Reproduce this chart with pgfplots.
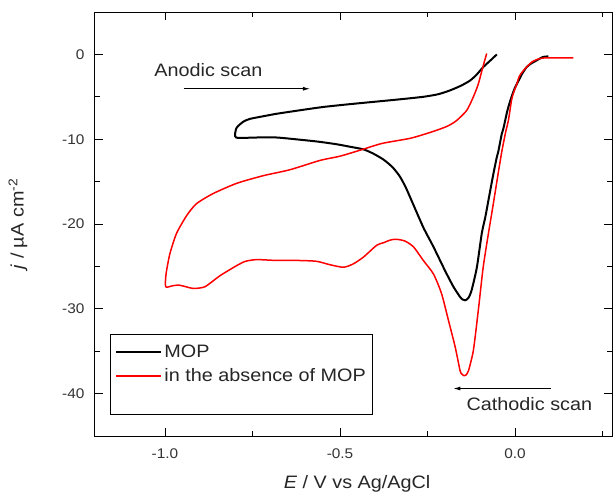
\documentclass[border=0pt]{standalone}
\usepackage{fontspec}
\setmainfont[FakeStretch=1.1]{Liberation Sans}
\usepackage{pgfplots}
\pgfplotsset{compat=1.18}
\usetikzlibrary{arrows.meta}
\begin{document}
\begin{tikzpicture}
\useasboundingbox (-95bp,-57bp) rectangle (518bp,436bp);
\begin{axis}[
  at={(0,0)}, anchor=south west,
  scale only axis, width=517bp, height=424bp,
  xmin=-1.2, xmax=0.277, ymin=-45, ymax=5,
  xtick={-1,-0.5,0}, minor xtick={-0.75,-0.25,0.25},
  ytick={-40,-30,-20,-10,0}, minor ytick={-35,-25,-15,-5},
  tick align=inside, major tick length=8bp, minor tick length=5bp,
  axis line style={line width=1bp},
  every tick/.style={black, line width=0.9bp},
  /pgf/number format/assume math mode=true,
  xticklabel={\pgfmathprintnumber[fixed,fixed zerofill,precision=1]{\tick}},
  yticklabel={\pgfmathprintnumber[fixed,precision=0]{\tick}},
  tick label style={font=\fontsize{14bp}{16bp}\selectfont, text=black!80},
  xticklabel style={yshift=-9bp},
  yticklabel style={xshift=-7bp},
  xlabel={\textit{E} / V vs Ag/AgCl},
  ylabel={\textit{j} / µA cm\textsuperscript{-2}},
  label style={font=\fontsize{18bp}{20bp}\selectfont, text=black!85},
  xlabel style={at={(axis description cs:0.507,-0.112)}, anchor=center},
  ylabel style={at={(axis description cs:-0.149,0.5)}, anchor=center},
  legend style={at={(axis description cs:0.029,0.0495)}, anchor=south west,
    draw=black, line width=0.9bp, font=\fontsize{18bp}{20bp}\selectfont,
    text=black!85, inner xsep=5bp, inner ysep=8bp, row sep=6bp},
  legend cell align=left,
  legend image code/.code={\draw[#1] (0bp,0bp) -- (45bp,0bp);},
]
\addplot[black, line width=2bp, line join=round, smooth, tension=0.4] coordinates {
(0.095,-0.24) (0.080,-0.3) (0.062,-0.7) (0.045,-1.1) (0.033,-1.5)
(0.020,-2.3) (0.010,-3.1) (0.000,-3.9) (-0.010,-5.0) (-0.019,-6.2)
(-0.024,-7.0) (-0.033,-8.7) (-0.038,-9.4) (-0.048,-11.5) (-0.052,-12.1)
(-0.060,-13.7) (-0.067,-15.2) (-0.076,-17.2) (-0.085,-19.2) (-0.095,-21.1)
(-0.109,-25.1) (-0.124,-27.8) (-0.133,-28.7) (-0.142,-29.0) (-0.150,-28.9)
(-0.157,-28.6) (-0.176,-27.4) (-0.200,-25.5) (-0.233,-22.7) (-0.262,-20.4)
(-0.296,-17.2) (-0.312,-15.7) (-0.329,-14.4) (-0.350,-13.3) (-0.376,-12.4)
(-0.405,-11.7) (-0.433,-11.2) (-0.470,-10.9) (-0.509,-10.6) (-0.560,-10.3)
(-0.605,-10.1) (-0.681,-9.8) (-0.740,-9.8) (-0.797,-9.8) (-0.797,-8.8)
(-0.790,-8.4) (-0.775,-7.9) (-0.757,-7.6) (-0.720,-7.3) (-0.681,-7.0)
(-0.600,-6.5) (-0.548,-6.2) (-0.480,-5.9) (-0.405,-5.6) (-0.330,-5.3)
(-0.262,-5.0) (-0.220,-4.7) (-0.186,-4.25) (-0.155,-3.7) (-0.129,-3.1)
(-0.110,-2.4) (-0.091,-1.5) (-0.070,-0.7) (-0.052,0.0)
};
\addlegendentry{MOP}
\addplot[red, line width=1.5bp, line join=round, smooth, tension=0.4] coordinates {
(0.167,-0.4) (0.120,-0.4) (0.090,-0.4) (0.070,-0.5) (0.048,-0.9)
(0.024,-1.9) (0.012,-2.6) (0.005,-3.5) (-0.004,-4.5) (-0.010,-5.4)
(-0.019,-7.8) (-0.026,-9.0) (-0.038,-11.5) (-0.050,-14.5) (-0.062,-17.6)
(-0.070,-19.6) (-0.076,-21.1) (-0.091,-25.1) (-0.105,-30.2) (-0.119,-34.9)
(-0.133,-37.3) (-0.140,-37.8) (-0.146,-37.9) (-0.152,-37.7) (-0.157,-37.3)
(-0.171,-34.5) (-0.190,-31.4) (-0.210,-28.2) (-0.233,-25.9) (-0.262,-24.3)
(-0.290,-22.7) (-0.315,-22.0) (-0.340,-21.8) (-0.357,-21.9) (-0.375,-22.2)
(-0.395,-22.5) (-0.433,-23.9) (-0.462,-24.7) (-0.490,-25.1) (-0.529,-24.8)
(-0.567,-24.4) (-0.620,-24.3) (-0.681,-24.3) (-0.738,-24.2) (-0.770,-24.4)
(-0.795,-24.9) (-0.843,-26.1) (-0.886,-27.4) (-0.919,-27.6) (-0.940,-27.4)
(-0.962,-27.2) (-0.980,-27.3) (-0.998,-27.4) (-0.997,-25.9) (-0.986,-23.5)
(-0.967,-21.1) (-0.938,-19.0) (-0.910,-17.6) (-0.862,-16.4) (-0.795,-15.2)
(-0.719,-14.3) (-0.643,-13.6) (-0.557,-12.5) (-0.500,-12.0) (-0.443,-11.3)
(-0.380,-10.5) (-0.300,-9.9) (-0.250,-9.3) (-0.214,-8.8) (-0.190,-8.4)
(-0.167,-7.8) (-0.138,-6.6) (-0.119,-5.0) (-0.105,-3.5) (-0.092,-1.5)
(-0.081,0.1)
};
\addlegendentry{in the absence of MOP}
\addlegendimage{empty legend}
\addlegendentry{\rule{0pt}{10bp}}
\draw[-{Latex[length=7bp,width=4bp]}, line width=0.9bp] (axis cs:-0.947,-4.05) -- (axis cs:-0.586,-4.05);
\draw[-{Latex[length=7bp,width=4bp]}, line width=0.9bp] (axis cs:0.102,-39.4) -- (axis cs:-0.176,-39.4);
\node[font=\fontsize{18bp}{20bp}\selectfont, text=black!85] at (axis cs:-0.876,-1.83) {Anodic scan};
\node[font=\fontsize{18bp}{20bp}\selectfont, text=black!85] at (axis cs:0.041,-41.2) {Cathodic scan};
\end{axis}
\end{tikzpicture}
\end{document}
